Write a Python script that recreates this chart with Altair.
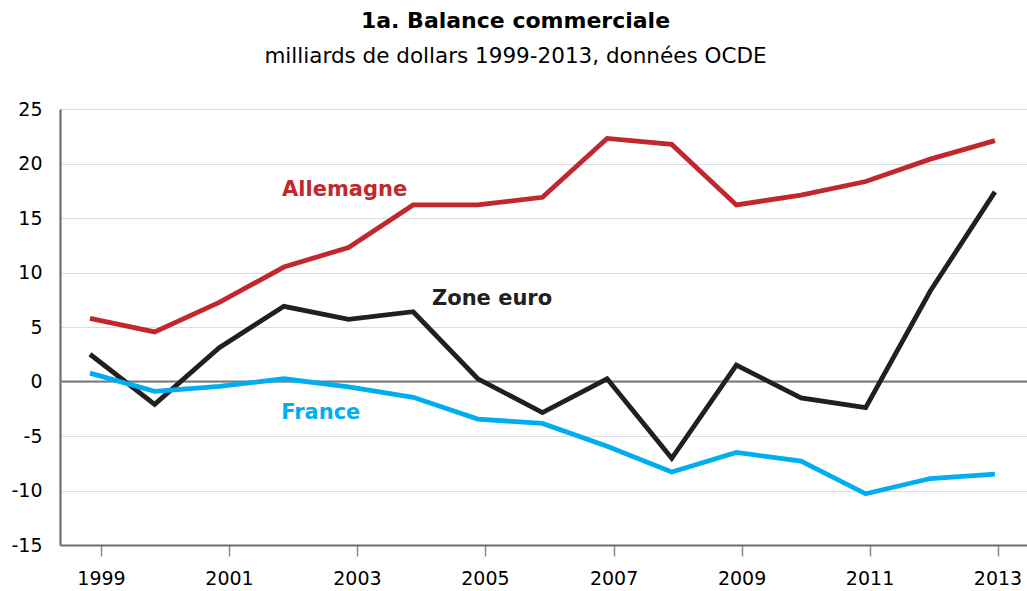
import altair as alt
import pandas as pd

# ---- data ----
years = list(range(1999, 2014))
allemagne = [5.8, 4.55, 7.25, 10.5, 12.3, 16.2, 16.2, 16.9, 22.3, 21.75, 16.2, 17.1, 18.35, 20.4, 22.1]
zone_euro = [2.5, -2.1, 3.1, 6.9, 5.7, 6.4, 0.25, -2.85, 0.25, -7.05, 1.5, -1.5, -2.4, 8.3, 17.4]
france = [0.77, -0.9, -0.45, 0.25, -0.5, -1.45, -3.45, -3.85, -5.95, -8.3, -6.5, -7.3, -10.3, -8.9, -8.5]

series_names = ["Allemagne", "Zone euro", "France"]
series_colors = ["#c1272d", "#231f20", "#00aeef"]

# label annotations (name, year position, value position)
label_names = ["Allemagne", "Zone euro", "France"]
label_x = [2002.94, 2005.22, 2002.57]
label_y = [17.05, 7.0, -3.47]

# x-axis tick positions / labels
tick_years = [1999, 2001, 2003, 2005, 2007, 2009, 2011, 2013]
tick_pos = [1999.17, 2001.15, 2003.13, 2005.11, 2007.10, 2009.08, 2011.06, 2013.04]
y_ticks = [-15, -10, -5, 0, 5, 10, 15, 20, 25]

rows = []
for name, vals in zip(series_names, [allemagne, zone_euro, france]):
    for yr, v in zip(years, vals):
        rows.append({"serie": name, "annee": yr, "valeur": v})
df = pd.DataFrame(rows)

labels_df = pd.DataFrame({"serie": label_names, "x": label_x, "y": label_y})

FONT = "DejaVu Sans"
x_scale = alt.Scale(domain=[1998.536, 2013.496], nice=False, zero=False)
y_scale = alt.Scale(domain=[-15, 25], nice=False, zero=False)
color_scale = alt.Scale(domain=series_names, range=series_colors)

label_expr = "toString(round(datum.value))"

base = alt.Chart(df)

lines = base.mark_line(strokeWidth=4.8, strokeJoin="miter", strokeCap="butt").encode(
    x=alt.X("annee:Q", scale=x_scale,
            axis=alt.Axis(values=tick_pos, labelExpr=label_expr, title=None, grid=False,
                          domainColor="#6d6e71", domainWidth=2.2,
                          tickColor="#8a8b8e", tickWidth=1.5, tickSize=11,
                          labelFontSize=19, labelFont=FONT, labelColor="#000000",
                          labelPadding=13, labelFlush=False)),
    y=alt.Y("valeur:Q", scale=y_scale,
            axis=alt.Axis(values=y_ticks, labelExpr="toString(datum.value)",
                          title=None, grid=True, gridColor="#dcdde0", gridWidth=1.2,
                          domainColor="#6d6e71", domainWidth=2.2, ticks=False,
                          labelFontSize=19, labelFont=FONT, labelColor="#000000",
                          labelPadding=18)),
    color=alt.Color("serie:N", scale=color_scale, legend=None),
    detail="serie:N",
)

zero_df = pd.DataFrame({"z": [0]})
zero_rule = alt.Chart(zero_df).mark_rule(color="#77787b", strokeWidth=1.8).encode(
    y=alt.Y("z:Q", scale=y_scale)
)

texts = alt.Chart(labels_df).mark_text(fontSize=21, fontWeight="bold", font=FONT,
                                       align="center", baseline="alphabetic").encode(
    x=alt.X("x:Q", scale=x_scale),
    y=alt.Y("y:Q", scale=y_scale),
    text="serie:N",
    color=alt.Color("serie:N", scale=color_scale, legend=None),
)

chart = alt.layer(zero_rule, lines, texts).properties(
    width=967,
    height=436,
    padding={"left": 60, "top": 109, "right": 0, "bottom": 46},
    autosize=alt.AutoSizeParams(type="none"),
    title=alt.TitleParams(
        text="1a. Balance commerciale",
        subtitle="milliards de dollars 1999-2013, données OCDE",
        anchor="middle", dx=-28,
        font=FONT, fontSize=22, fontWeight="bold", color="#000000",
        subtitleFont=FONT, subtitleFontSize=21.5, subtitleColor="#000000",
        subtitlePadding=13, offset=32,
    ),
).configure_view(fill="#f0f1f3", stroke=None).configure(background="#ffffff")

chart.save("out.html", embed_options={"renderer": "svg", "actions": False})
